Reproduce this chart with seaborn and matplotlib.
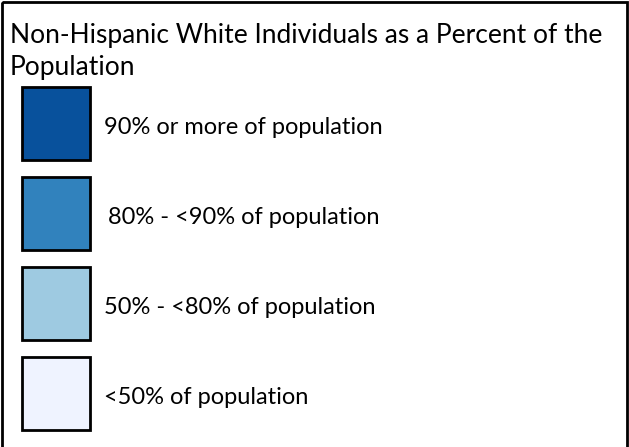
import matplotlib
matplotlib.use("Agg")
import matplotlib.pyplot as plt
import seaborn as sns
from matplotlib.patches import Rectangle

sns.set_theme(style="white")
plt.rcParams['font.family'] = ['Lato', 'DejaVu Sans']

title_lines = ["Non-Hispanic White Individuals as a Percent of the", "Population"]
categories = ["90% or more of population", "80% - <90% of population",
              "50% - <80% of population", "<50% of population"]
colors = ["#08519c", "#3182bd", "#9ecae1", "#eff3ff"]

W, H = 629, 447
fig = plt.figure(figsize=(W / 100, H / 100), dpi=100)
ax = fig.add_axes([0, 0, 1, 1])
ax.set_xlim(0, W)
ax.set_ylim(H, 0)
ax.axis("off")

# outer frame (bottom cut off)
ax.add_patch(Rectangle((2, 2), W - 4, H + 10, fill=False, edgecolor="black", linewidth=2))

ax.text(10, 35, title_lines[0], fontsize=19, va="center", ha="left", color="black")
ax.text(10, 67, title_lines[1], fontsize=19, va="center", ha="left", color="black")

box_top0 = 87
step = 90
box_h = 73
label_x = [104, 108, 104, 104]
for i, (lab, col) in enumerate(zip(categories, colors)):
    top = box_top0 + i * step
    ax.add_patch(Rectangle((22, top), 68, box_h, facecolor=col, edgecolor="black", linewidth=2))
    ax.text(label_x[i], top + box_h / 2 + 4, lab, fontsize=17, va="center", ha="left", color="black")

fig.savefig("out.png", dpi=100)
